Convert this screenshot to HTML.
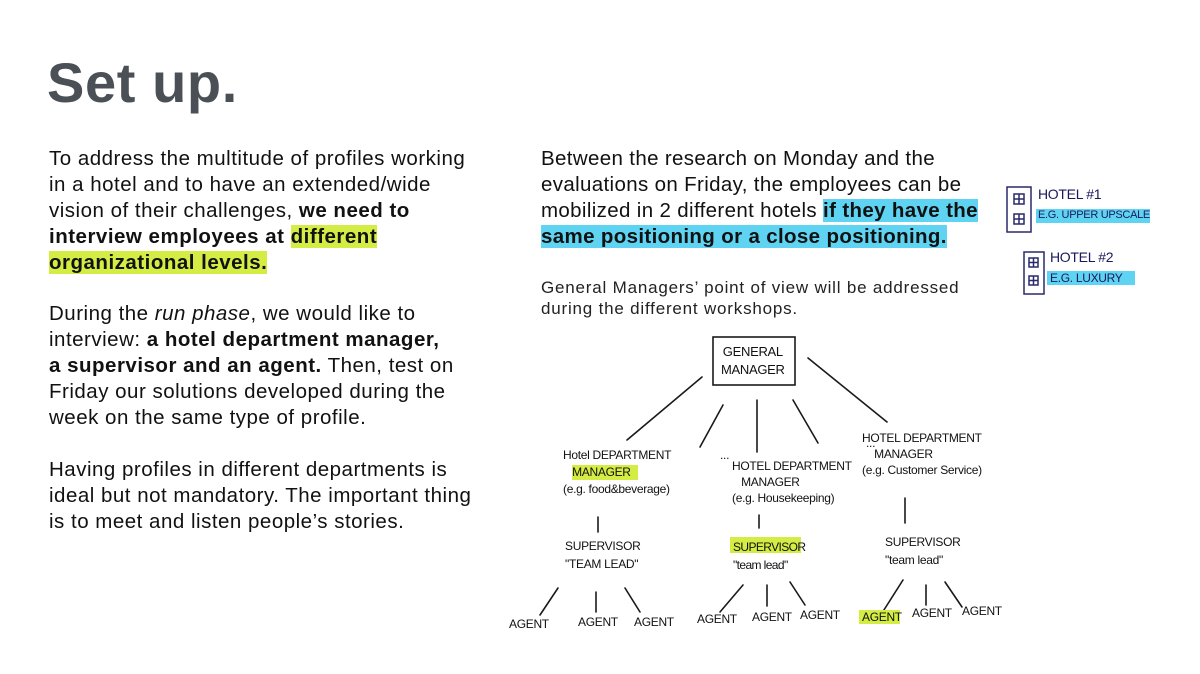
<!DOCTYPE html>
<html><head><meta charset="utf-8"><style>
body{margin:0;width:1200px;height:674px;background:#fff;position:relative;overflow:hidden;font-family:"Liberation Sans",sans-serif;color:#111;}
.t{position:absolute;left:47px;top:50px;font-size:56px;font-weight:bold;color:#4b5056;letter-spacing:0.6px}
.p{position:absolute;font-size:20.5px;line-height:26px;white-space:nowrap;letter-spacing:0.5px}
.p div{height:26px}
.g{background:#d5ec45}
.b{background:#5ed3f2}
.s{position:absolute;font-size:17px;line-height:21px;white-space:nowrap;color:#222;letter-spacing:0.8px}
.h{position:absolute;font-family:"Liberation Sans",sans-serif;font-size:12px;white-space:nowrap;color:#111;text-transform:uppercase;letter-spacing:-0.3px}
</style></head><body>
<div class="t">Set up.</div>
<div class="p" style="left:49px;top:146px">
<div>To address the multitude of profiles working</div>
<div>in a hotel and to have an extended/wide</div>
<div>vision of their challenges, <b>we need to</b></div>
<div><b>interview employees at <span class="g">different</span></b></div>
<div><b><span class="g">organizational levels.</span></b></div>
</div>
<div class="p" style="left:49px;top:301px">
<div>During the <i>run phase</i>, we would like to</div>
<div>interview: <b>a hotel department manager,</b></div>
<div><b>a supervisor and an agent.</b> Then, test on</div>
<div>Friday our solutions developed during the</div>
<div>week on the same type of profile.</div>
</div>
<div class="p" style="left:49px;top:457px">
<div>Having profiles in different departments is</div>
<div>ideal but not mandatory. The important thing</div>
<div>is to meet and listen people’s stories.</div>
</div>
<div class="p" style="left:541px;top:146px;letter-spacing:0.35px">
<div>Between the research on Monday and the</div>
<div>evaluations on Friday, the employees can be</div>
<div>mobilized in 2 different hotels <b><span class="b">if they have the</span></b></div>
<div><b><span class="b">same positioning or a close positioning.</span></b></div>
</div>
<div class="s" style="left:541px;top:277px">General Managers’ point of view will be addressed<br>during the different workshops.</div>

<svg style="position:absolute;left:0;top:0" width="1200" height="674">
<g stroke="#1a1a1a" stroke-width="1.6" fill="none" stroke-linecap="round">
<rect x="713" y="337" width="82" height="48"/>
<line x1="702" y1="377" x2="627" y2="440"/>
<line x1="723" y1="405" x2="700" y2="447"/>
<line x1="757" y1="400" x2="757" y2="452"/>
<line x1="793" y1="400" x2="818" y2="443"/>
<line x1="808" y1="358" x2="887" y2="422"/>
<line x1="598" y1="517" x2="598" y2="532"/>
<line x1="759" y1="515" x2="759" y2="528"/>
<line x1="905" y1="498" x2="905" y2="523"/>
<line x1="558" y1="588" x2="540" y2="615"/>
<line x1="596" y1="592" x2="596" y2="612"/>
<line x1="625" y1="588" x2="640" y2="612"/>
<line x1="743" y1="585" x2="720" y2="612"/>
<line x1="767" y1="585" x2="767" y2="606"/>
<line x1="790" y1="582" x2="805" y2="605"/>
<line x1="903" y1="580" x2="882" y2="613"/>
<line x1="926" y1="585" x2="926" y2="605"/>
<line x1="945" y1="582" x2="962" y2="607"/>
</g>
<rect x="1036" y="209" width="114" height="14" fill="#5ed3f2"/>
<rect x="1047" y="271" width="88" height="14" fill="#5ed3f2"/>
<g stroke="#2a2a6a" stroke-width="1.5" fill="none">
<rect x="1007" y="187" width="24" height="45"/>
<rect x="1014" y="194" width="10" height="10"/><rect x="1014" y="214" width="10" height="10"/>
<path d="M1019 194v10M1014 199h10M1019 214v10M1014 219h10"/>
<rect x="1024" y="252" width="20" height="42"/>
<rect x="1029" y="258" width="9" height="9"/><rect x="1029" y="276" width="9" height="9"/>
<path d="M1033.5 258v9M1029 262.5h9M1033.5 276v9M1029 280.5h9"/>
</g>
<rect x="572" y="465" width="66" height="15" fill="#d5ec45"/>
<rect x="730" y="537" width="71" height="16" fill="#d5ec45"/>
<rect x="859" y="610" width="41" height="14" fill="#d5ec45"/>
</svg>
<div class="h" style="left:721px;top:343px;font-size:13px;line-height:18px;text-align:center">General<br>Manager</div>
<div class="h" style="left:1038px;top:186px;color:#1a1a5a;font-size:14px">Hotel #1</div>
<div class="h" style="left:1038px;top:209px;color:#1a1a5a;font-size:11px">e.g. Upper upscale</div>
<div class="h" style="left:1050px;top:249px;color:#1a1a5a;font-size:14px">Hotel #2</div>
<div class="h" style="left:1050px;top:271px;color:#1a1a5a;font-size:12px">e.g. Luxury</div>
<div class="h" style="left:563px;top:447px;line-height:17px;text-transform:none">Hotel DEPARTMENT<br>&nbsp;&nbsp;&nbsp;MANAGER<br>(e.g. food&amp;beverage)</div>
<div class="h" style="left:720px;top:448px">...</div>
<div class="h" style="left:866px;top:436px">...</div>
<div class="h" style="left:732px;top:458px;line-height:16px;text-transform:none">HOTEL DEPARTMENT<br>&nbsp;&nbsp;&nbsp;MANAGER<br>(e.g. Housekeeping)</div>
<div class="h" style="left:862px;top:430px;line-height:16px;text-transform:none">HOTEL DEPARTMENT<br>&nbsp;&nbsp;&nbsp;&nbsp;MANAGER<br>(e.g. Customer Service)</div>
<div class="h" style="left:565px;top:537px;line-height:18px;text-transform:none">SUPERVISOR<br>"TEAM LEAD"</div>
<div class="h" style="left:733px;top:538px;line-height:18px;text-transform:none;letter-spacing:-0.6px">SUPERVISOR<br>"team lead"</div>
<div class="h" style="left:885px;top:533px;line-height:18px;text-transform:none">SUPERVISOR<br>"team lead"</div>
<div class="h" style="left:509px;top:617px">Agent</div>
<div class="h" style="left:578px;top:615px">Agent</div>
<div class="h" style="left:634px;top:615px">Agent</div>
<div class="h" style="left:697px;top:612px">Agent</div>
<div class="h" style="left:752px;top:610px">Agent</div>
<div class="h" style="left:800px;top:608px">Agent</div>
<div class="h" style="left:862px;top:610px">Agent</div>
<div class="h" style="left:912px;top:606px">Agent</div>
<div class="h" style="left:962px;top:604px">Agent</div>
</body></html>
